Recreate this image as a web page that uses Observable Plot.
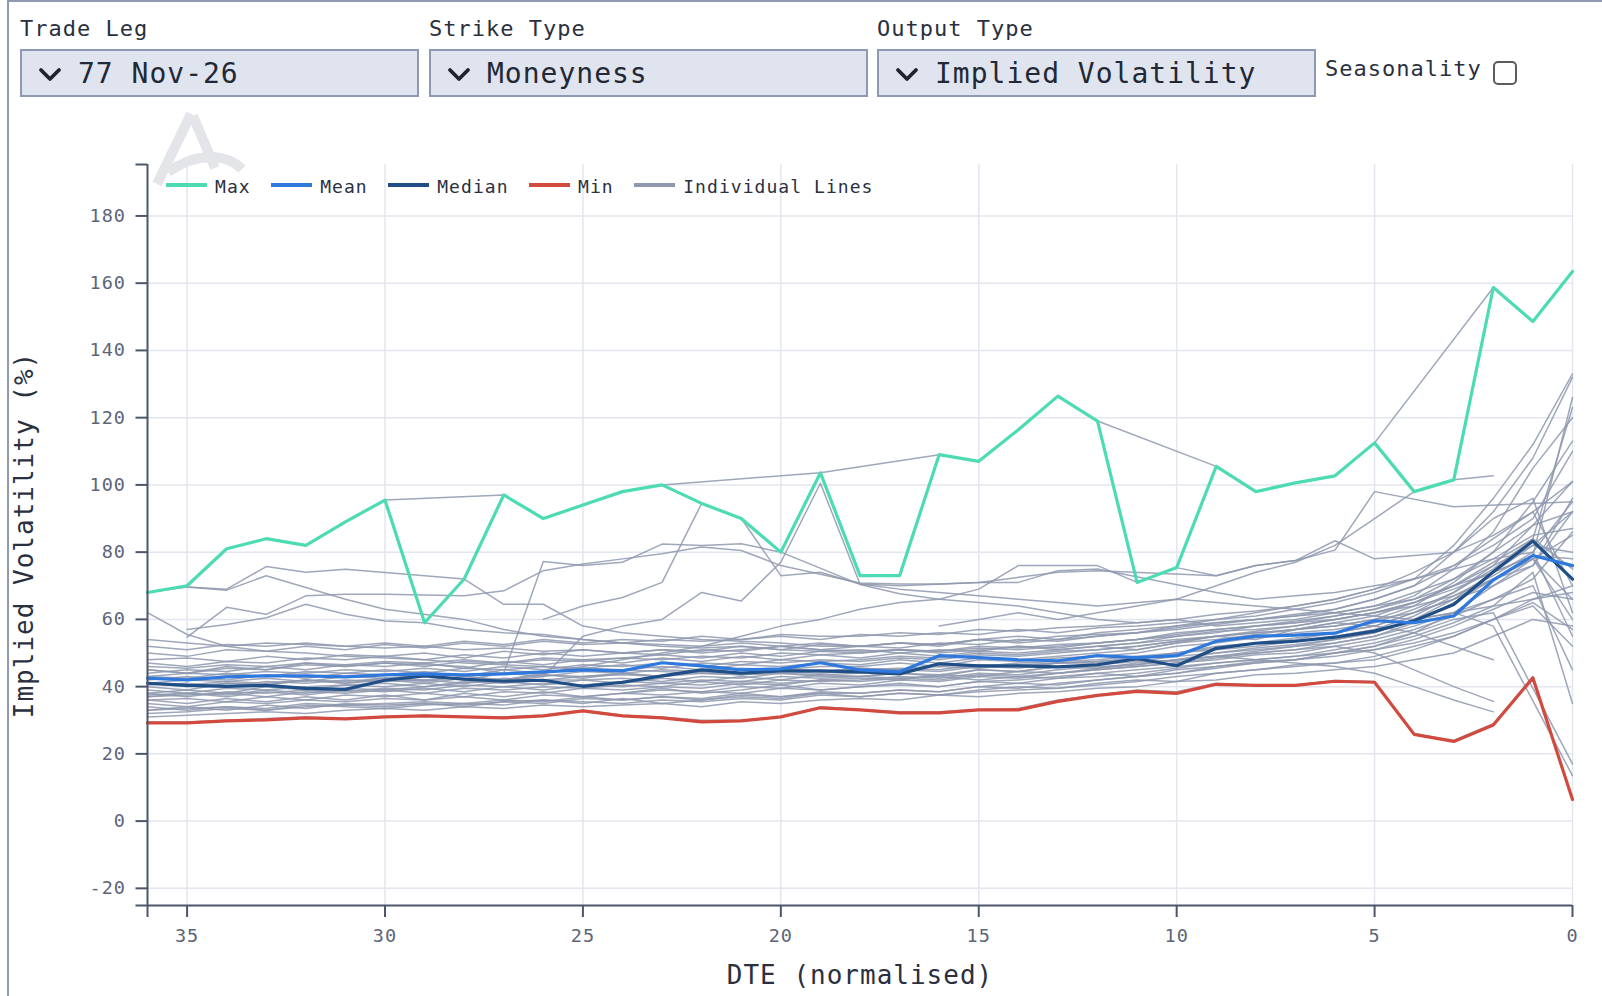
<!DOCTYPE html>
<html>
<head>
<meta charset="utf-8">
<script src="https://cdn.jsdelivr.net/npm/d3@7"></script>
<script src="https://cdn.jsdelivr.net/npm/@observablehq/plot@0.6"></script>
<style>
  html, body { margin:0; padding:0; background:#ffffff; }
  body { width:1602px; height:996px; overflow:hidden; position:relative; font-family:"DejaVu Sans Mono", monospace; color:#2a3040; }
  #frame { position:absolute; left:7px; top:0; width:1600px; height:1000px; border-left:2px solid #8f9ab2; border-top:2px solid #8f9ab2; box-sizing:border-box; }
  .lbl { position:absolute; font-size:22px; line-height:22px; letter-spacing:1px; color:#2a3040; white-space:nowrap; }
  .dd { position:absolute; top:49px; height:48px; box-sizing:border-box; background:#e0e4ee; border:2px solid #8e9ab3; }
  .dd svg { position:absolute; left:16px; top:16px; }
  .dd span { position:absolute; left:56px; top:calc(50% + 1px); transform:translateY(-50%); font-size:28px; line-height:28px; letter-spacing:1px; color:#222836; white-space:nowrap; }
  .cb { position:absolute; left:1493px; top:61px; width:24px; height:24px; box-sizing:border-box; border:2px solid #5c5c5c; border-radius:5px; background:#fff; }
  #wm { position:absolute; left:0; top:0; }
  #chart { position:absolute; left:0; top:110px; }
  #legend { position:absolute; left:166px; top:175px; height:24px; display:flex; align-items:center; font-size:18px; line-height:18px; letter-spacing:1.05px; color:#2a3040; white-space:nowrap; }
  .item { display:flex; align-items:center; margin-right:20.5px; }
  .sw { width:41px; height:3.5px; margin-right:8px; position:relative; top:-2px; }
</style>
</head>
<body>
<div id="frame"></div>

<div class="lbl" style="left:20px; top:18px;">Trade Leg</div>
<div class="lbl" style="left:429px; top:18px;">Strike Type</div>
<div class="lbl" style="left:877px; top:18px;">Output Type</div>

<div class="dd" style="left:20px; width:399px;">
  <svg width="24" height="16" viewBox="0 0 24 16"><polyline points="3,3 12,12 21,3" fill="none" stroke="#1f2430" stroke-width="3.8" stroke-linecap="round" stroke-linejoin="round"/></svg>
  <span>77 Nov-26</span>
</div>
<div class="dd" style="left:429px; width:439px;">
  <svg width="24" height="16" viewBox="0 0 24 16"><polyline points="3,3 12,12 21,3" fill="none" stroke="#1f2430" stroke-width="3.8" stroke-linecap="round" stroke-linejoin="round"/></svg>
  <span>Moneyness</span>
</div>
<div class="dd" style="left:877px; width:439px;">
  <svg width="24" height="16" viewBox="0 0 24 16"><polyline points="3,3 12,12 21,3" fill="none" stroke="#1f2430" stroke-width="3.8" stroke-linecap="round" stroke-linejoin="round"/></svg>
  <span>Implied Volatility</span>
</div>
<div class="lbl" style="left:1325px; top:58px;">Seasonality</div>
<div class="cb"></div>

<svg id="wm" width="300" height="240">
  <g fill="none" stroke="#e4e5e9" stroke-width="10" stroke-linecap="butt">
    <path d="M157,184 L191,114"/>
    <path d="M193,116 L215,168"/>
    <path d="M168,172 C184,161 199,156 214,157 C227,158 235,162 242,169"/>
  </g>
</svg>

<div id="chart"></div>

<div id="legend"></div>

<script>
// ---- Data ----
const dte = [36,35,34,33,32,31,30,29,28,27,26,25,24,23,22,21,20,19,18,17,16,15,14,13,12,11,10,9,8,7,6,5,4,3,2,1,0];

const maxVals    = [68,70,81,84,82,89, 95.5,59,72,97,90,94, 98,100,94.5,90,80,103.6, 73,73,109,107,116.4,126.4, 119,71,75.4,105.5,98,100.6, 102.7,112.5,98,101.5,158.7,148.6, 163.5];
const meanVals   = [42.5,42,42.9,43.2,43.2,42.9, 43.5,43.8,43.5,43.8,44.4,45, 44.7,47.1,46.2,45,45.3,47.1, 45,44.4,49.2,48.6,48,47.7, 49.2,48.6,49.2,53.5,55,55.3, 55.9,59.6,59,61,71.7,79, 76];
const medianVals = [41,40.4,40.1,40.4,39.5,39.2, 41.9,43.2,42.2,41.6,41.9,40.1, 41.3,43.2,45,44,44.7,44.7, 44.4,43.8,46.8,46.2,46.2,45.9, 46.5,48.3,46.2,51.4,52.9,53.5, 54.7,56.5,59.6,64.4,74.2,83.3, 72];
const minVals    = [29.2,29.2,29.8,30.1,30.7,30.4, 31,31.3,31,30.7,31.3,32.8, 31.3,30.7,29.5,29.8,31,33.7, 33.1,32.2,32.2,33.1,33.1,35.6, 37.4,38.6,38,40.7,40.4,40.4, 41.6,41.3,25.8,23.7,28.6,42.6, 6.4];

// Individual lines, values at DTE 36 ... 0 (null = no observation)
const individualLines = [
  [68,70,81,84,82,89, 95.5,null,null,97,90,94, 98,100,null,null,null,103.6, null,null,109,107,116.4,126.4, 119,null,null,105.5,98,100.6, 102.7,112.5,null,null,158.7,148.6, 163.5],
  [null,null,null,null,null,null, null,null,null,null,60,64, 66.5,71,94.5,90,73,74, 70.5,70,null,71,71,74.5, 75,null,null,68,66,67, 68,70,72,76,82,90, 110],
  [45,44,46,45,47,46, 47,null,46,44,77.2,76, 77,82.4,82,82.5,80,null, 70.4,67.6,66,65,64,62, 60,59,60,58,59,60, 62,64,68,72,80,88, 92],
  [null,54.7,63.6,61.5,67,67.5, 67.5,null,67,68.5,74.5,76.5, 78,79.5,81.5,80.5,76,null, 70.8,70.5,70.5,71,72.5,74, 74.5,null,null,73,76,77.5, 83.4,78,79,80,85,92, 101],
  [68,69.6,69,75.7,74,74.9, null,null,72,64.5,64.5,58, 56,55,54,53.5,53,52, 52,53,52.5,54,55,54, 56,57,58,59,60,61, 62,64,66,70,74,79, 126],
  [null,69.6,68.7,73,69.5,66, 63,null,60,57,55,54, 53,52,51.5,52,51,50.5, 51,50,51,50.5,52,51.5, 53,54,55,56.5,57,58, 60,62,65,70,77,84, 123],
  [null,57,58.5,60.5,64.5,61.5, 59.5,59,57,56,55.5,54, 53,52.5,52,53,52,51, 50.5,51,50,51,52,51, 52,53,54,55,56,57, 58,60,62,66,72,78, 66],
  [62,55.5,52,50.5,50,49, 48.5,48,47,46.5,46,45, 45,44.5,44,43.5,44,43, 43,42.5,43,42,43,42.5, 44,45,46,47,48,49, 50,51,53,56,60,65, 57],
  [41,40,41,40.5,42,41, 42,41,42.5,41.5,43,55, 58,60,68,65.5,77,100.5, 70.5,69,68,67,66,65, 64,null,66,65,64,63, 62,61,60,62,64,66, 68],
  [37,38,37.5,39,38,39.5, 39,40,41,42,44,46, 48,50,52,55,58,60, 63,65,66,69,76,76, 76,71,75.4,73,76,77.5, 80.6,98,null,93.5,null,94.5, 95],
  [null,null,null,null,null,null, null,null,null,null,null,null, null,null,null,null,null,null, null,null,58,60,62,60, 62,64,66,70,74,77, 82,90,98,101.5,102.7,null, null],
  [null,null,null,null,null,null, null,null,null,null,null,null, 38,39,38.5,40,39.5,41, 40.5,42,41.5,43,42.5,44, 45,46,47,48,49.5,50, 52,50,45,40,35.6,null, null],
  [41,40.5,41.5,41,42,41.5, 42.5,42,43,42,43.5,43, 44,43,44.5,44,45,44.5, 45.5,45,46,45.5,46.5,47, 47,48,47.5,49,48,47, 46,44,40,36,32.5,null, null],
  [29.5,29.5,30,30.5,31,30.5, 31,31.5,31,31,31.5,33, 31.5,31,30,30,31,34, 33.2,32.5,32.5,33.2,33.5,36, 37.5,39,38.5,41,40.5,40.5, 41.8,41.5,26,24,29,43, 6.5],
  [33,34,33,34.5,33.5,35, 34.5,35,34,35.5,36,35, 36.5,35,36,37,36.5,38, 37,38,37.5,39,40,39.5, 41,42,41.5,44,45,46, 47,48,51,55,60,66, 70],
  [36,35,36.5,35.5,37,36, 37.5,36,38,37,38.5,37, 38,39.5,38,39,40.5,39, 40,41,40,41.5,42,43, 44,43,45,46,47.5,48, 50,52,56,62,70,78, 85],
  [38,39,38,40,39,40.5, 40,41,40,41.5,40.5,42, 41,42.5,41.5,43,42,43.5, 43,44,43,45,44.5,46, 45.5,47,48,50,51,52, 54,56,60,66,74,82, 92],
  [40,39,41,40.5,42,41, 42.5,41.5,43,42,43.5,42.5, 44,43,44.5,44,45,44.5, 45.5,45,46.5,46,47,47.5, 48,49,50,52,53,54.5, 56,58,62,68,76,88, 101],
  [42,43,42,43.5,42.5,44, 43.5,44.5,43,45,44,45.5, 45,46,45,46.5,46,47, 46.5,48,47,48.5,48,49, 50,51,53,54,55.5,57, 58,60,64,71,80,95, 113],
  [44,45,44.5,46,45,46.5, 46,47,45.5,47.5,46.5,48, 47,48.5,47.5,49,48,49.5, 48.5,50,49,50.5,50,51, 52,53,55,56,58,59.5, 61,63,67,75,86,105, 120],
  [47,46,47.5,47,48.5,48, 49,48,49.5,48.5,50,49, 50,49.5,51,50.5,52,51, 52,51.5,53,52.5,54,53.5, 55,56,57,58.5,60,61, 63,66,70,80,92,108, 132],
  [50,49,51,50.5,52,51, 52.5,51.5,53,52,53.5,52.5, 53,54,53.5,54,55,54, 55.5,55,56,55.5,57,56, 57.5,58,59,60,61,63, 65,68,72,82,96,112, 133],
  [52,51,52.5,52,53,52, 51.5,52,51,51.5,50.5,51, 50,51,50,51,52,53, 52,53,52,54,53,54, 55,56,58,60,62,64, 66,69,72,75,78,80, 95],
  [34,33,34,33.5,35,34.5, 35,35.5,35,36,35.5,37, 36,37,36.5,38,37,38.5, 38,39,38.5,40,41,40.5, 42,43,44,45.5,47,48, 49,51,54,58,63,68, 66],
  [37,37.5,38,37,38.5,38, 39,38,39.5,39,40,39.5, 40.5,40,41.5,40.5,42,41.5, 42,43,42.5,44,43.5,45, 46,46.5,48,49,50,51, 53,55,59,65,72,78, 60],
  [39,38,39.5,39,40,40.5, 41,40,41.5,41,42,42, 42.5,41.5,43,42.5,44,43.5, 44,45,44.5,46,45.5,47, 47.5,48,50,51,52,53.5, 55,57,61,67,73,80, 55],
  [41,42,41.5,42.5,41.5,43, 42.5,43.5,42,44,43,44.5, 44,45,44.5,45.5,45,46, 46,47,46,48,47.5,48.5, 49,50,52,53,54.5,56, 57,59,63,68,75,84, 75],
  [43,42.5,44,43,44.5,44, 45,44,45.5,45,46,45.5, 46.5,45.5,47,46.5,48,47.5, 48,49,48.5,50,49.5,50.5, 51,52,53.5,55,56,57, 59,61,65,70,76,82, 80],
  [45,44,45.5,45,46.5,46, 47,46,47.5,47,48,47.5, 48.5,48,49,48.5,50,49.5, 50,51,50.5,52,51.5,52.5, 53,54,55.5,57,58,59, 61,63,66,72,78,85, 87],
  [48,48.5,47.5,49,48,49.5, 49,50,48.5,50.5,49.5,51, 50,51,50.5,52,51,52.5, 52,53,52.5,54,53.5,55, 55.5,56,57.5,59,60,61.5, 63,66,70,76,84,92, 70],
  [54,53,52,53,52.5,52, 53,52,53.5,52.5,54,53, 54,53.5,55,54,55.5,55, 55,56,55.5,57,56.5,57.5, 58,59,60,61.5,62.5,64, 66,69,74,80,90,96, 62],
  [36,36.5,35.5,37,36,37.5, 37,38,37,38.5,38,39.5, 39,40,39.5,41,40.5,42, 41.5,42.5,42,43.5,43,44, 45,46,47,48.5,50,51, 52,54,57,61,66,70, 45],
  [32,32.5,33.5,33,34,34.5, 34,35,34.5,35.5,35,36.5, 36,37,36,37.5,37,38, 38,39,38.5,40,39.5,41, 42,43,44,46,47,48, 50,52,55,59,64,74, 35],
  [35,34,35.5,35,36,35.5, 36.5,36,37,36,37.5,37, 38,37.5,38.5,38,39.5,39, 40,40.5,40,41.5,41,42.5, 43,44,45.5,47,48,49, 51,53,56,60,62,null, 17],
  [38,37,38.5,38,39,38.5, 39.5,39,40.5,40,41,40.5, 41.5,41,42,41.5,43,42.5, 43,44,43.5,45,44.5,46, 46.5,47.5,49,50,51.5,52.5, 54,56,60,62,58,null, 13.5],
  [31,31.5,32,32.5,32,33, 33.5,33,34,33.5,34.5,34, 34.5,35,34,35.5,35,36, 36.5,36,37.5,37,38,38.5, 39.5,40,41.5,42,43.5,44, 45,46,48,50,55,60, 58],
  [33,33.5,34,33,34.5,34, 33.5,34.5,35,34.5,36,35.5, 35,36,35.5,36.5,36,37.5, 37,38,37.5,38.5,39,39.5, 40.5,41.5,43,44,45,46.5, 47,49,52,55,60,64, 52],
  [40.5,41,40,41.5,41,42, 41.5,42,41,42.5,42,43, 43.5,43,44,43.5,44.5,44, 45,45.5,45,46.5,46,47, 47.5,48.5,50,51.5,53,54, 56,58,62,66,70,76, 96],
  [46,45.5,46.5,46,47,46.5, 47.5,47,48,47,48.5,48, 48.5,49.5,48.5,50,49,50.5, 50,51,50.5,51.5,51,52, 53,54,56,57,58,59, 60,62,64,67,72,76, 92],
  [37.5,38,37,38.5,37.5,39, 38.5,39.5,38.5,40,39,40.5, 40,41,40.5,41.5,41,42, 42.5,42,43.5,43,44.5,44, 45.5,46.5,48,49,50.5,52, 53,55,58,62,66,72, 86],
  [43,44,43.5,44.5,44,45, 44.5,45.5,44.5,46,45,46.5, 46,47,46,47.5,47,48, 47.5,48.5,48,49.5,49,50, 51,52,53.5,55,56.5,58, 60,62,65,69,74,79, 78],
  [null,null,null,null,null,null, null,null,null,null,null,null, null,null,null,null,null,null, null,null,null,null,null,null, 52,51,53,55,54,57, 59,58,56,52,48,null, null]
];

const xTicks = [35,30,25,20,15,10,5,0];
const yTicks = [-20,0,20,40,60,80,100,120,140,160,180];
const xDomain = [36, 0];
const yDomain = [-25.1, 195.3];

const legendNames  = ["Max","Mean","Median","Min","Individual Lines"];
const legendColors = ["#4ddbb4","#2f78dc","#1f4f86","#d24a3e","#8e98ae"];

// ---- Build tables ----
const toRows = (vals, id) => vals.flatMap((v, i) => v == null ? [] : [{ d: dte[i], v, id }]);
const indRows = individualLines.flatMap((vals, k) => toRows(vals, k));

const axisColor = "#4c566b";
const labelColor = "#5b6479";

const chart = Plot.plot({
  width: 1602,
  height: 886,
  marginLeft: 147,
  marginRight: 30,
  marginTop: 54,
  marginBottom: 91,
  x: { domain: xDomain },
  y: { domain: yDomain },
  style: { fontFamily: "DejaVu Sans Mono", fontSize: "18.5px", letterSpacing: "1px", background: "transparent", overflow: "visible" },
  marks: [
    Plot.ruleX(xTicks, { stroke: "#e3e6ee", strokeWidth: 1.5 }),
    Plot.ruleY(yTicks, { stroke: "#e3e6ee", strokeWidth: 1.5 }),
    Plot.line(indRows, { x: "d", y: "v", z: "id", stroke: legendColors[4], strokeWidth: 1.5, strokeOpacity: 0.85 }),
    Plot.line(toRows(maxVals, "max"), { x: "d", y: "v", stroke: legendColors[0], strokeWidth: 3.2 }),
    Plot.line(toRows(minVals, "min"), { x: "d", y: "v", stroke: legendColors[3], strokeWidth: 3.2 }),
    Plot.line(toRows(medianVals, "median"), { x: "d", y: "v", stroke: legendColors[2], strokeWidth: 3.2 }),
    Plot.line(toRows(meanVals, "mean"), { x: "d", y: "v", stroke: legendColors[1], strokeWidth: 3.2 }),
    Plot.ruleX([xDomain[0]], { stroke: axisColor, strokeWidth: 2 }),
    Plot.ruleY([yDomain[0]], { stroke: axisColor, strokeWidth: 2 }),
    Plot.axisY({
      ticks: [yDomain[0], ...yTicks, yDomain[1]],
      tickFormat: d => yTicks.includes(d) ? String(d) : "",
      tickSize: 11.5, tickPadding: 10, label: null,
      stroke: axisColor, fill: labelColor, strokeWidth: 2
    }),
    Plot.axisX({
      ticks: [xDomain[0], ...xTicks],
      tickFormat: d => xTicks.includes(d) ? String(d) : "",
      tickSize: 12, tickPadding: 11, label: null,
      stroke: axisColor, fill: labelColor, strokeWidth: 2
    }),
    Plot.text(["DTE (normalised)"], { text: d => d, frameAnchor: "bottom", dy: 70, fontSize: 26, fill: "#2a3040", textAnchor: "middle", lineAnchor: "middle" }),
    Plot.text(["Implied Volatility (%)"], { text: d => d, frameAnchor: "left", dx: -123, rotate: -90, fontSize: 26, fill: "#2a3040", textAnchor: "middle", lineAnchor: "middle" })
  ]
});
document.getElementById("chart").appendChild(chart);

// ---- Legend ----
const legend = document.getElementById("legend");
legendNames.forEach((name, i) => {
  const item = document.createElement("div");
  item.className = "item";
  const sw = document.createElement("div");
  sw.className = "sw";
  sw.style.background = legendColors[i];
  const t = document.createElement("span");
  t.textContent = name;
  item.appendChild(sw);
  item.appendChild(t);
  legend.appendChild(item);
});
</script>
</body>
</html>
